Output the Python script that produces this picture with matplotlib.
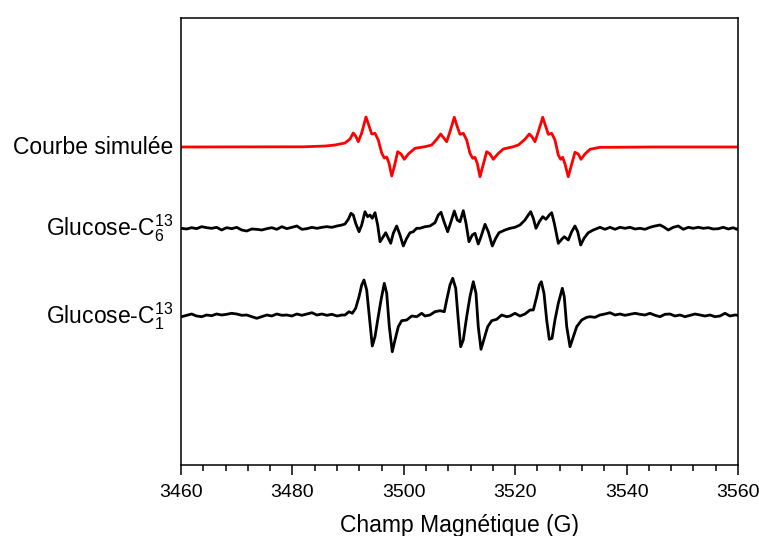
import matplotlib
matplotlib.use("Agg")
import matplotlib.pyplot as plt
from matplotlib.ticker import MultipleLocator
from matplotlib.transforms import blended_transform_factory

plt.rcParams['font.family'] = ['Liberation Sans', 'DejaVu Sans']
plt.rcParams['mathtext.fontset'] = 'custom'
plt.rcParams['mathtext.rm'] = 'Liberation Sans'
plt.rcParams['mathtext.it'] = 'Liberation Sans'
plt.rcParams['mathtext.default'] = 'regular'

# ---------------- data (field in G, signal in arbitrary units) ----------------
labels = ["Courbe simulée", "Glucose-C$_6^{13}$", "Glucose-C$_1^{13}$"]
xticks = [3460, 3480, 3500, 3520, 3540, 3560]

field_sim = [3460.0, 3482.0, 3486.0, 3487.65, 3489.44, 3490.34, 3490.93, 3491.36, 3491.83, 3492.44,
             3493.21, 3493.81, 3494.24, 3494.83, 3495.42, 3496.03, 3496.50, 3496.93, 3497.34, 3497.83,
             3498.29, 3498.90, 3499.50, 3500.09, 3500.81, 3502.01, 3503.81, 3505.01, 3505.91, 3506.62,
             3507.09, 3507.70, 3508.29, 3509.07, 3509.60, 3510.09, 3510.68, 3511.29, 3511.88, 3512.37,
             3512.78, 3513.19, 3513.68, 3514.16, 3514.88, 3515.47, 3516.07, 3516.86, 3517.86, 3519.66,
             3520.56, 3521.76, 3522.53, 3523.01, 3523.55, 3524.15, 3524.94, 3525.53, 3525.94, 3526.55,
             3527.14, 3527.74, 3528.17, 3528.53, 3528.94, 3529.53, 3530.02, 3530.73, 3531.33, 3531.81,
             3532.53, 3533.43, 3535.22, 3536.89, 3545.0, 3560.0]
sig_sim = [0, 0.2, 1.0, 2, 4, 8, 14, 11, 5.3, 14,
           30, 20.3, 13, 13.7, 7, -6, -11, -10, -16, -29,
           -19.7, -4.7, -7, -12.3, -7, -1.3, 0.3, 2, 7.7, 13,
           9.7, 5.3, 15.3, 29.7, 20.3, 12.7, 13.7, 7, -6.3, -11.3,
           -10.3, -16.3, -29.7, -19.7, -4.7, -7, -12.3, -7, -2, 0.3,
           2, 7.7, 13, 10.3, 5.3, 15.3, 29.7, 19.7, 12.7, 13.7,
           7, -8, -12.3, -10.3, -17, -29.7, -19.7, -5.3, -7, -12.3,
           -7, -2.3, -0.3, -0.3, 0, 0]

field_c6 = [3460.1, 3461.0, 3461.9, 3462.8, 3463.7, 3464.6, 3465.5, 3466.4, 3467.3, 3468.2,
            3469.1, 3470.0, 3470.9, 3471.8, 3472.7, 3473.6, 3474.5, 3475.4, 3476.3, 3477.2,
            3478.1, 3479.0, 3479.9, 3480.8, 3481.7, 3482.6, 3483.5, 3484.4, 3485.3, 3486.2,
            3487.1, 3488.0, 3488.9,
            3489.44, 3490.04, 3490.52, 3490.93, 3491.36, 3491.96, 3492.44, 3493.03, 3493.52, 3493.93,
            3494.34, 3494.83, 3495.31, 3495.73, 3496.32, 3496.75, 3497.22, 3497.65, 3498.11, 3498.72,
            3499.32, 3499.91, 3500.52, 3501.11, 3501.70, 3502.31, 3502.91,
            3503.81, 3504.70, 3505.60, 3506.19, 3506.68, 3507.22, 3507.88, 3508.47, 3509.07, 3509.60,
            3510.09, 3510.68, 3511.17, 3511.70, 3512.30, 3512.78, 3513.37, 3513.86, 3514.58, 3515.17,
            3515.89, 3516.50, 3517.09, 3518.17,
            3519.07, 3519.96, 3520.86, 3521.76, 3522.35, 3522.78, 3523.25, 3523.73, 3524.33, 3524.94,
            3525.53, 3526.12, 3526.55, 3527.02, 3527.74, 3528.35, 3528.81, 3529.53, 3530.14, 3530.73,
            3531.22, 3531.76, 3532.35, 3533.12, 3534.02,
            3535.22, 3536.12, 3537.02, 3537.92, 3538.81, 3539.71, 3540.61, 3541.51, 3542.40, 3543.30,
            3544.20, 3545.10, 3546.00, 3546.59, 3547.49, 3548.38, 3549.28, 3550.18, 3551.08, 3551.97,
            3552.87, 3553.77, 3554.67, 3555.56, 3556.46, 3557.36, 3558.26, 3559.15, 3559.76, 3560.0]
sig_c6 = [-0.33, -1, 0.33, -0.67, 1.33, 0.33, -0.33, 0.67, -2, 0.33,
          -0.67, 0.67, -2, -3, -1, -1.33, -2, -0.67, 0.33, -1.33,
          1.33, -0.67, 0.67, 2, -1.33, -0.67, 0.67, -0.33, 0.67, 1.33,
          0.67, 2, 3,
          4, 8.7, 14.7, 13, 4.7, -3.7, 3, 16.3, 11.3, 13,
          9.7, 15.3, 3, -13.7, -8.7, -4.7, -10.3, -15.3, -5.3, 2,
          -7, -18, -10.3, -4.7, -3.7, -0.3, -0.3,
          1.3, 2, 5.3, 13, 15.7, 6.3, -3.7, 6.3, 17, 8,
          6.3, 17.3, 4.7, -13.7, -7, -5.3, -16, -8.7, 3.7, -3.7,
          -18, -10.3, -4.7, -2,
          -0.3, 0.7, 3, 8, 13, 16.3, 9.7, -0.3, 6.3, 11.3,
          8.7, 13, 15.3, 4.7, -15.3, -11.3, -8.7, -12, -3.7, 2,
          -3.7, -17, -10.3, -4.7, -2,
          0.7, -1.3, 0.7, -1.3, 0.7, -0.3, 0.7, -1, -0.3, -1.3,
          0.7, 2, 3, 1.3, -2, 0.7, 2, -1.3, 0.7, -0.3,
          0.7, -0.3, 0.3, -1, -0.7, 0.7, -1, 0.3, -1.3, -0.5]

field_c1 = [3460.1, 3461.0, 3461.9, 3462.8, 3463.7, 3464.6, 3465.5, 3466.4, 3467.3, 3468.2,
            3469.1, 3470.0, 3470.9, 3471.8, 3472.7, 3473.6, 3474.5, 3475.4, 3476.3, 3477.2,
            3478.1, 3479.0, 3479.9, 3480.8, 3481.7, 3482.6, 3483.5, 3484.4, 3485.3, 3486.2,
            3487.1, 3488.0, 3488.9,
            3489.44, 3490.16, 3490.75, 3491.36, 3491.96, 3492.44, 3492.85, 3493.34, 3493.81, 3494.34,
            3494.83, 3495.31, 3495.91, 3496.50, 3496.93, 3497.40, 3497.93, 3498.42, 3499.01, 3499.62,
            3500.52, 3501.42, 3502.31, 3503.21,
            3503.81, 3504.70, 3505.60, 3506.50, 3507.27, 3507.70, 3508.29, 3508.78, 3509.32, 3509.78,
            3510.21, 3510.68, 3511.29, 3511.88, 3512.48, 3512.96, 3513.37, 3513.86, 3514.45, 3515.06,
            3515.78, 3516.68, 3517.58, 3518.47,
            3519.07, 3519.96, 3520.86, 3521.76, 3522.66, 3523.25, 3523.86, 3524.33, 3524.69, 3525.17,
            3525.65, 3526.12, 3526.61, 3527.14, 3527.74, 3528.46, 3528.81, 3529.25, 3529.84, 3530.43,
            3531.04, 3531.94, 3532.84,
            3533.43, 3534.33, 3535.22, 3536.12, 3537.02, 3537.92, 3538.81, 3539.71, 3540.61, 3541.51,
            3542.40, 3543.30, 3544.20, 3545.10, 3546.00, 3546.89, 3547.79, 3548.69, 3549.59, 3550.48,
            3551.38, 3552.28, 3553.18, 3554.07, 3554.97, 3555.87, 3556.77, 3557.66, 3558.56, 3559.46,
            3560.0]
sig_c1 = [-0.7, 0.7, 2, 0, -0.7, 1, 0.3, 2, 1, 1.7,
          2.7, 2, 0.7, 1, -0.7, -2.3, -0.7, 1, 0, 2,
          0.7, 1, 0, 2, 0.7, 2, 3.3, 1, 2, 0.7,
          1.7, 0, 1,
          1, 4.3, 2.7, 7.7, 19.3, 31, 36, 26, -0.7, -30,
          -20.7, -4, 16, 32.7, 22.7, -10.7, -35.7, -24, -10.7, -4.7,
          -4, 0, -0.7, 2.7,
          0, 1, 4.3, 5.3, 4.3, 16, 31, 37.7, 27.7, -4,
          -30.7, -24, -0.7, 19.3, 34.3, 22.7, -10.7, -33.3, -22.3, -10.7,
          -4.7, -3.3, 1, -0.7,
          0, 2.7, 0, 2, 6, 6, 19.3, 31, 34.3, 22.7,
          -4, -23.3, -22.3, -4, 12.7, 27.7, 19.3, -10.7, -30.7, -20.7,
          -10.7, -4, -1.3,
          -0.7, -1.3, 1, 2, 3.3, 1, 2, 0.7, 1.7, 2.7,
          1.7, 1, 2.7, 0.7, -0.7, 1.7, 2, 0, 1, -0.7,
          0.7, 2, 1, 0, 1, -0.7, 0, 2.7, 0, 1,
          0.7]

# ---------------- layout / style ----------------
offsets = [318, 237, 149]
colors = ['#ff0000', '#000000', '#000000']

fig = plt.figure(figsize=(7.59, 5.36), dpi=100)
ax = fig.add_axes([181/759, 1 - 465/536, (738 - 181)/759, (465 - 18)/536])

series = [(field_sim, sig_sim), (field_c6, sig_c6), (field_c1, sig_c1)]
for (fx, sy), off, col in zip(series, offsets, colors):
    ax.plot(fx, [off + v for v in sy], color=col, lw=2.0,
            solid_joinstyle='round', solid_capstyle='round')

ax.set_xlim(3460, 3560)
ax.set_ylim(0, 447)
ax.set_xticks(xticks)
ax.xaxis.set_minor_locator(MultipleLocator(4))
ax.tick_params(axis='x', which='major', direction='out', length=7, width=1.1,
               labelsize=14, pad=7, top=False)
ax.tick_params(axis='x', which='minor', direction='out', length=4, width=1.1, top=False)
ax.tick_params(axis='y', left=False, labelleft=False, right=False)
for sp in ax.spines.values():
    sp.set_linewidth(1.1)

ax.set_xlabel("Champ Magnétique (G)", fontsize=16.5, labelpad=9)

trans = blended_transform_factory(ax.transAxes, ax.transData)
for lab, off in zip(labels, offsets):
    ax.text(-0.014, off, lab, ha='right', va='center', fontsize=16.5, transform=trans)

fig.savefig("out.png", dpi=100)
